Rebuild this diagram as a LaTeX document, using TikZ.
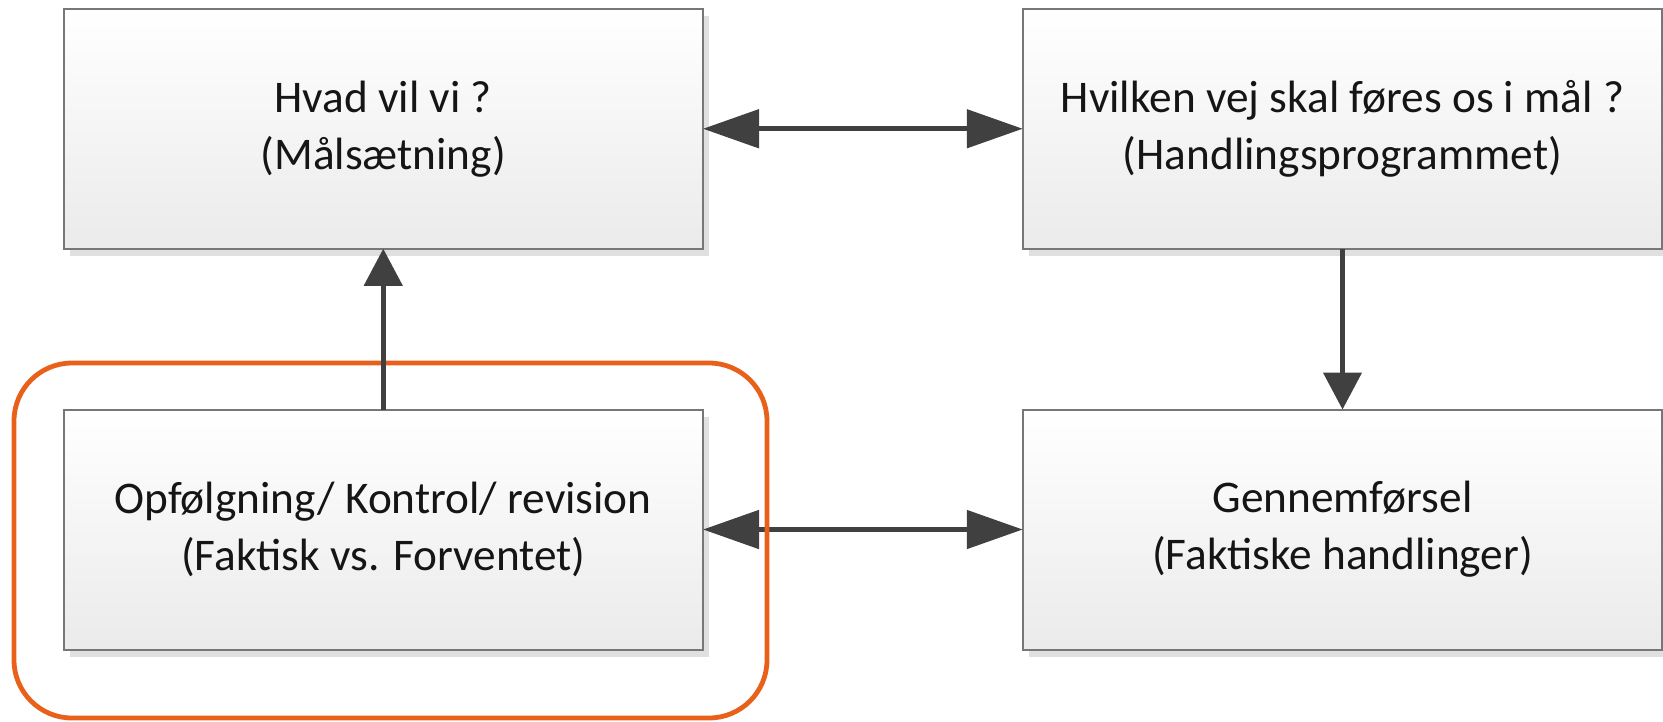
\documentclass[tikz,border=0pt]{standalone}
\usepackage{fontspec}
\setmainfont{Carlito}
\usetikzlibrary{arrows.meta,shadows}
\definecolor{boxline}{HTML}{777777}
\definecolor{arrowgray}{HTML}{404040}
\definecolor{ring}{HTML}{E8601A}
\definecolor{txt}{HTML}{151515}
\begin{document}
\begin{tikzpicture}[x=1pt,y=-1pt,
  stepbox/.style={rectangle, draw=boxline, line width=2pt,
    top color=white, bottom color=black!8,
    minimum width=639.5pt, minimum height=240pt,
    inner sep=0pt, outer sep=0pt, align=center, text=txt,
    font=\fontsize{45.3}{57}\selectfont,
    drop shadow={shadow xshift=6pt, shadow yshift=-7pt, fill=black!12, opacity=1}},
  harrow/.style={draw=arrowgray, line width=5pt,
    {Triangle[length=56pt,width=38pt]}-{Triangle[length=56pt,width=38pt]}},
  varrow/.style={draw=arrowgray, line width=4.5pt,
    -{Triangle[length=37pt,width=38pt]}},
  frame/.style={draw=ring, line width=4.8pt, rounded corners=58pt,
    minimum width=753pt, minimum height=355pt, inner sep=0pt, outer sep=0pt}
]
\path[use as bounding box] (0,0) rectangle (1663,721);

% the four stages of the cycle
\node[stepbox] (goal) at (383.25,128.75) {Hvad vil vi ?\\(Målsætning)};
\node[stepbox] (plan) at (1342.5,128.75) {Hvilken vej skal føres os i mål ?\\(Handlingsprogrammet)};
\node[stepbox] (check) at (383.25,529.5) {Opfølgning/ Kontrol/ revision\\(Faktisk vs. Forventet)};
\node[stepbox] (act) at (1342.5,529.5) {Gennemførsel\\(Faktiske handlinger)};

% connectors
\draw[harrow] (goal.east) -- (plan.west);
\draw[harrow] (check.east) -- (act.west);
\draw[varrow] (plan.south) -- (act.north);

% highlight round the follow-up stage
\node[frame] (focus) at (390.5,540.5) {};

\draw[varrow] (check.north) -- (goal.south);
\end{tikzpicture}
\end{document}
